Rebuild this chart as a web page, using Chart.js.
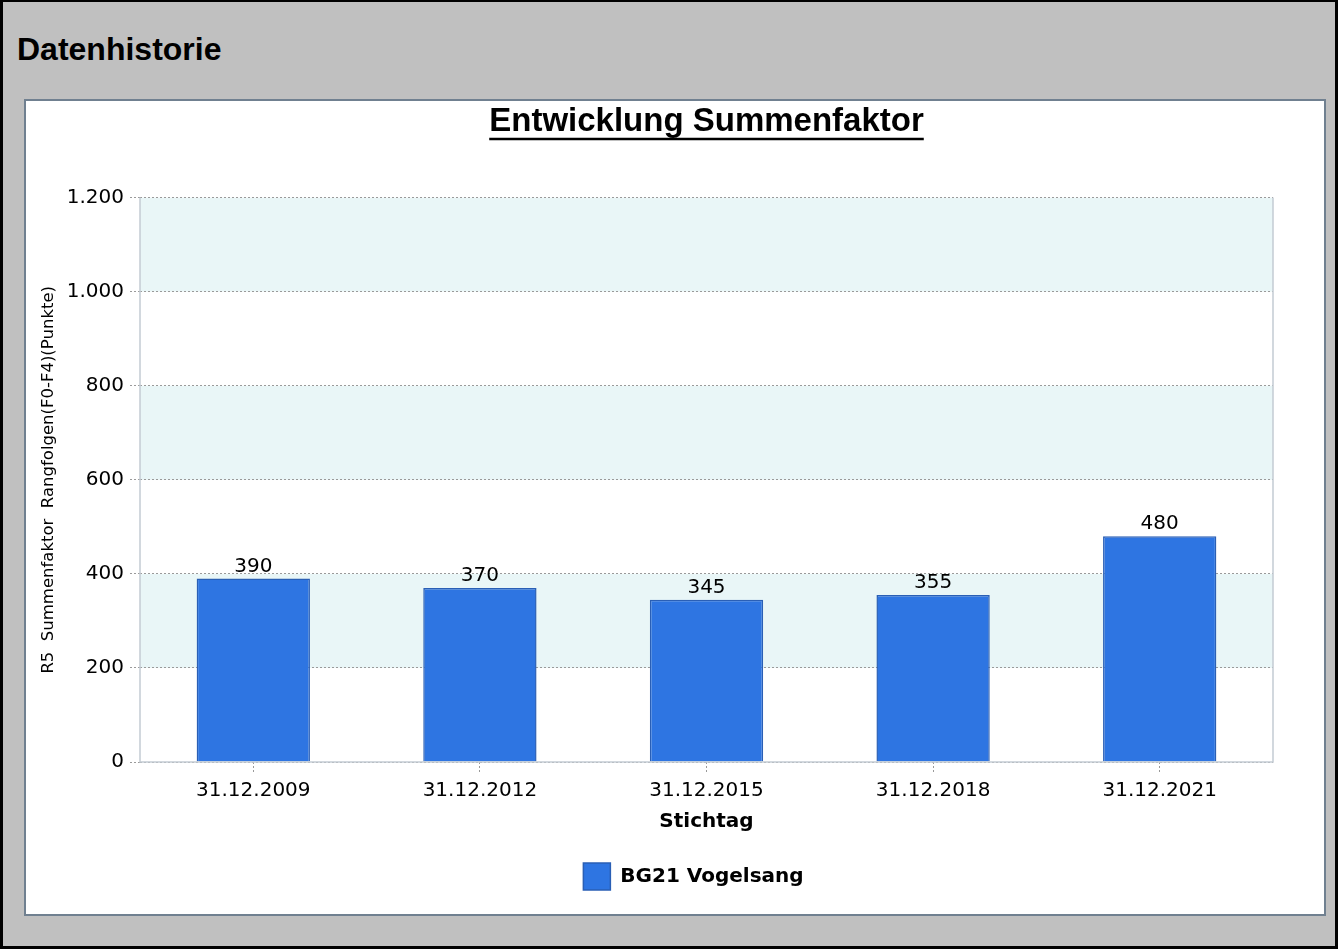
<!DOCTYPE html>
<html><head><meta charset="utf-8">
<script src="https://cdn.jsdelivr.net/npm/chart.js@4/dist/chart.umd.min.js"></script>
<style>
html,body{margin:0;padding:0;width:1338px;height:949px;overflow:hidden;background:#c0c0c0;}
#frame{position:absolute;left:0;top:0;width:1338px;height:949px;box-sizing:border-box;border:3px solid #000;border-top-width:2px;background:#c0c0c0;}
#hdr{position:absolute;left:17px;top:31px;font:bold 32px "Liberation Sans",Arial,sans-serif;color:#000;}
#panel{position:absolute;left:24px;top:99px;width:1302px;height:817px;box-sizing:border-box;border:2px solid #708090;background:#fff;}
#wrap{position:absolute;left:24px;top:99px;width:1365px;height:817px;}
</style></head>
<body>
<div id="frame"></div>
<div id="hdr">Datenhistorie</div>
<div id="panel"></div>
<div id="wrap"><canvas id="c" width="1365" height="817"></canvas></div>
<script>
const categories = ["31.12.2009","31.12.2012","31.12.2015","31.12.2018","31.12.2021"];
const seriesName = "BG21 Vogelsang";
const values = [390, 370, 345, 355, 480];
const yTicks = [0, 200, 400, 600, 800, 1000, 1200];
const bands = [[200,400],[600,800],[1000,1200]];
const chartTitle = "Entwicklung Summenfaktor";
const yTitle = "R5  Summenfaktor  Rangfolgen(F0-F4)(Punkte)";
const xTitle = "Stichtag";

const FONT = '"DejaVu Sans", Verdana, sans-serif';
const TITLE_FONT = 'bold 33px "Liberation Sans", Arial, sans-serif';

const bandPlugin = {
  id: 'bands',
  afterLayout(chart) {
    const lg = chart.legend;
    if (lg) { lg.left -= 13; lg.right -= 13; }
  },
  beforeDraw(chart) {
    const {ctx, chartArea: a, scales: {y}} = chart;
    ctx.save();
    ctx.fillStyle = '#e9f6f7';
    bands.forEach(([lo, hi]) => {
      const t = y.getPixelForValue(hi), b = y.getPixelForValue(lo);
      ctx.fillRect(a.left, t, a.right - a.left, b - t);
    });
    ctx.restore();
  },
  afterDatasetsDraw(chart) {
    const {ctx, chartArea: a} = chart;
    ctx.save();
    ctx.strokeStyle = '#c4cbd3';
    ctx.lineWidth = 1.5;
    ctx.beginPath();
    ctx.moveTo(a.left, a.top); ctx.lineTo(a.left, a.bottom); ctx.lineTo(a.right, a.bottom); ctx.lineTo(a.right, a.top);
    ctx.stroke();
    const meta = chart.getDatasetMeta(0);
    ctx.fillStyle = '#000';
    ctx.font = '20px ' + FONT;
    ctx.textAlign = 'center';
    ctx.textBaseline = 'bottom';
    meta.data.forEach((bar, i) => {
      ctx.fillText(String(values[i]), bar.x, bar.y - 2);
    });
    ctx.restore();
  },
  afterDraw(chart) {
    const tb = chart.titleBlock;
    if (!tb) return;
    const ctx = chart.ctx;
    ctx.save();
    ctx.font = TITLE_FONT;
    const w = ctx.measureText(chartTitle).width;
    const cx = chart.width / 2;
    ctx.strokeStyle = '#000';
    ctx.lineWidth = 2.5;
    ctx.beginPath();
    const yy = tb.top + tb.options.padding.top + 37;
    ctx.moveTo(cx - w/2, yy); ctx.lineTo(cx + w/2, yy);
    ctx.stroke();
    ctx.restore();
  }
};

new Chart(document.getElementById('c'), {
  type: 'bar',
  data: {
    labels: categories,
    datasets: [{
      label: seriesName,
      data: values,
      backgroundColor: '#2e75e2',
      borderColor: '#2a5fb5',
      borderWidth: 1.5,
      barPercentage: 0.5,
      categoryPercentage: 1.0
    }]
  },
  options: {
    responsive: false,
    animation: false,
    devicePixelRatio: 1,
    layout: { padding: { left: 0, right: 0, top: 0, bottom: 16 } },
    plugins: {
      title: {
        display: true,
        text: chartTitle,
        color: '#000',
        font: { family: '"Liberation Sans", Arial, sans-serif', size: 33, weight: 'bold', lineHeight: 1.2 },
        padding: { top: 3, bottom: 56 }
      },
      legend: {
        position: 'bottom',
        labels: {
          color: '#000',
          boxWidth: 27, boxHeight: 27,
          font: { family: FONT, size: 20, weight: 'bold' },
          padding: 10
        }
      },
      tooltip: { enabled: false }
    },
    scales: {
      x: {
        offset: true,
        grid: { drawOnChartArea: false, offset: false, display: true, tickLength: 10, color: '#999', tickBorderDash: [2,2], tickColor: '#999' },
        border: { display: false },
        ticks: { color: '#000', font: { family: FONT, size: 20 }, padding: 7, maxRotation: 0 },
        title: { display: true, text: xTitle, color: '#000', font: { family: FONT, size: 20, weight: 'bold' }, padding: { top: 0, bottom: 19 } }
      },
      y: {
        min: 0, max: 1200,
        afterBuildTicks(scale) { scale.ticks = yTicks.map(v => ({ value: v })); },
        afterFit(scale) { scale.width = 116; },
        grid: { color: '#9a9a9a', tickBorderDash: [2,2], tickLength: 10, lineWidth: 1, tickColor: '#9a9a9a' },
        border: { display: false, dash: [2,2] },
        ticks: {
          color: '#000', font: { family: FONT, size: 20 }, padding: 6,
          callback: v => v.toLocaleString('de-DE')
        },
        title: { display: true, text: yTitle, color: '#000', font: { family: FONT, size: 16.5 }, padding: { top: 15, bottom: 0 } }
      },
      yRight: {
        position: 'right',
        display: true,
        afterFit(scale) { scale.width = 116; },
        grid: { display: false, drawOnChartArea: false },
        border: { display: false },
        ticks: { display: false }
      }
    }
  },
  plugins: [bandPlugin]
});
</script>
</body></html>
